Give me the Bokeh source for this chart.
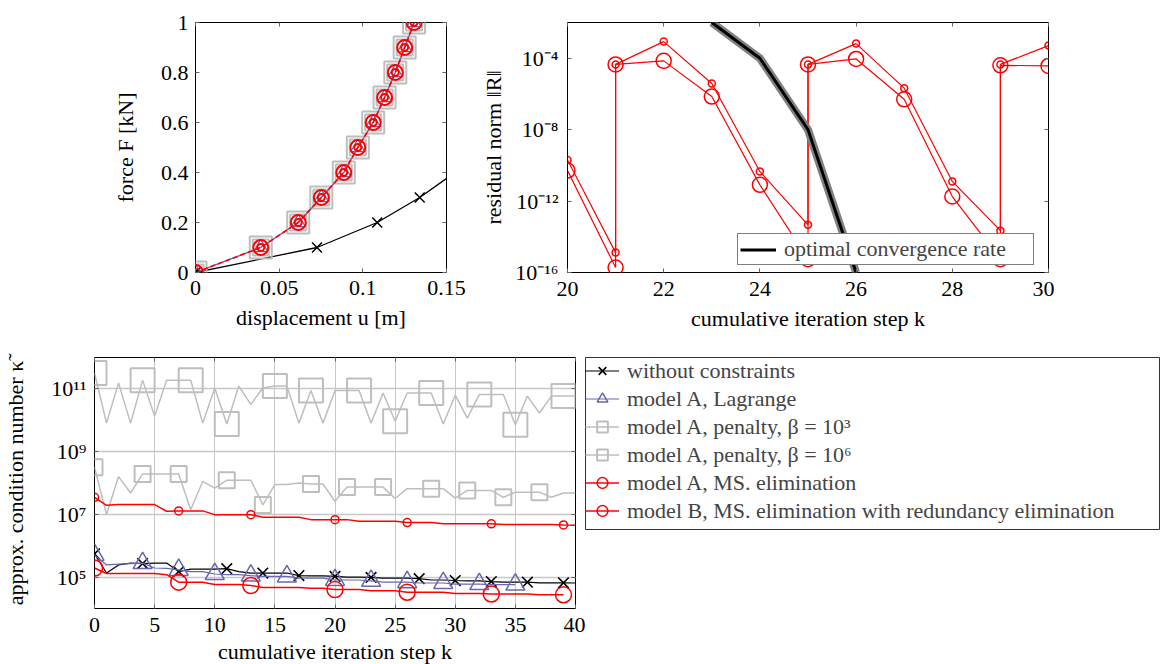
from bokeh.plotting import figure
from bokeh.models import (Range1d, FixedTicker, CustomJSTickFormatter, LinearAxis, LogAxis,
                          Legend, LegendItem)
from bokeh.layouts import column, row
from bokeh.embed import file_html
from bokeh.resources import INLINE

FONT = "Liberation Serif"
FS = "22px"
RED = "#ff0000"
GRAY = "#bebebe"
BLUE = "#6767b0"
BLACK = "#000000"

# ---------------- panel 1: force-displacement ----------------
force_levels = [0.0, 0.1, 0.2, 0.3, 0.4, 0.5, 0.6, 0.7, 0.8, 0.9, 1.0]
disp_constrained = [0.0, 0.039, 0.0614, 0.0752, 0.0886, 0.097, 0.1062, 0.113, 0.1194, 0.125, 0.1306]
force_free = [0.0, 0.1, 0.2, 0.3, 0.4]
disp_free = [0.0, 0.0726, 0.1086, 0.134, 0.155]
p1_xticks = [0.0, 0.05, 0.1, 0.15]
p1_yticks = [0.0, 0.2, 0.4, 0.6, 0.8, 1.0]

# ---------------- panel 2: residual norm ----------------
k_res = [20, 21, 21, 22, 23, 24, 25, 25, 26, 27, 28, 29, 29, 30]
res_model_A = [2.0e-10, 1.3e-15, 4.5e-5, 8.5e-4, 3.8e-6, 4.5e-11, 4.7e-14, 4.5e-5, 6.6e-4,
               2.1e-6, 1.26e-11, 2.2e-14, 4.5e-5, 5.1e-4]
res_model_B = [5.1e-11, 1.9e-16, 4.5e-5, 7.1e-5, 7.1e-7, 8.1e-12, 5.6e-16, 4.5e-5, 9.1e-5,
               5.0e-7, 1.8e-12, 5.6e-16, 4.0e-5, 3.7e-5]
k_opt = [23, 24, 25, 26]
res_opt = [1e-2, 1e-4, 1e-8, 1e-16]
p2_xticks = [20, 22, 24, 26, 28, 30]
p2_yticks = [1e-16, 1e-12, 1e-8, 1e-4]

# ---------------- panel 3: condition number ----------------
k41 = list(range(41))
k40 = list(range(40))
k36 = list(range(36))
kappa_free = [5.5e5, 1.35e5, 2.45e5, 2.8e5, 2.7e5, 2.8e5, 2.8e5, 1.5e5, 1.8e5, 1.8e5,
              1.8e5, 1.86e5, 1.5e5, 1.35e5, 1.35e5, 1.35e5, 1.35e5, 1.12e5, 1.1e5, 1.1e5,
              1.05e5, 1.0e5, 1.0e5, 9.8e4, 9.3e4, 9.3e4, 9.3e4, 8.9e4, 8.1e4, 8.1e4,
              7.8e4, 7.6e4, 7.6e4, 7.2e4, 6.9e4, 6.9e4, 6.9e4, 6.6e4, 6.6e4, 6.6e4, 6.5e4]
marks_free = [0, 4, 7, 11, 14, 17, 20, 23, 27, 30, 33, 36, 39]
kappa_lagrange = [5.1e5, 2.45e5, 2.6e5, 2.7e5, 2.8e5, 1.95e5, 1.9e5, 1.7e5, 1.5e5, 1.5e5,
                  1.26e5, 1.2e5, 1.2e5, 1.12e5, 1.05e5, 1.05e5, 1.05e5, 9.3e4, 9.3e4, 9.3e4,
                  8.1e4, 8.1e4, 8.1e4, 7.6e4, 6.9e4, 6.9e4, 6.9e4, 6.5e4, 6.5e4, 6.5e4,
                  6.0e4, 6.0e4, 6.0e4, 5.8e4, 5.8e4, 5.8e4]
marks_lagrange = [0, 4, 7, 10, 13, 16, 20, 23, 26, 29, 32, 35]
kappa_beta3 = [3.2e8, 9.8e6, 1.6e8, 4.8e7, 1.95e8, 1.95e8, 1.95e8, 1.95e8, 1.4e7, 1.12e8,
               6.9e7, 1.23e8, 1.23e8, 1.23e8, 2.0e7, 8.9e7, 8.9e7, 1.0e8, 9.3e7, 9.3e7,
               2.6e7, 7.4e7, 7.4e7, 7.4e7, 7.4e7, 3.2e7, 6.6e7, 6.6e7, 6.6e7, 6.6e7,
               3.3e7, 5.8e7, 5.8e7, 5.8e7, 3.5e7, 5.1e7, 5.1e7, 5.1e7, 3.5e7, 4.8e7, 4.8e7]
marks_beta3 = [0, 4, 7, 11, 14, 18, 21, 24, 28, 31, 34, 37]
kappa_beta6 = [3.2e11, 8.1e9, 1.55e11, 8.1e9, 1.9e11, 1.35e10, 1.9e11, 1.9e11, 1.9e11, 8.1e9,
               1.07e11, 7.6e9, 1.23e11, 3.2e10, 1.07e11, 1.23e11, 1.23e11, 8.1e9, 8.9e10, 8.1e9,
               8.9e10, 8.9e10, 8.9e10, 8.1e9, 7.4e10, 9.3e9, 7.4e10, 7.4e10, 7.4e10, 7.6e9,
               6.3e10, 1.17e10, 6.6e10, 6.6e10, 6.6e10, 7.2e9, 5.9e10, 1.7e10, 5.9e10, 5.9e10, 5.9e10]
marks_beta6 = [0, 4, 8, 11, 15, 18, 22, 25, 28, 32, 35, 39]
kappa_msA = [3.5e7, 1.95e7, 2.05e7, 2.05e7, 2.05e7, 2.05e7, 1.26e7, 1.29e7, 1.29e7, 1.29e7,
             9.8e6, 9.8e6, 9.8e6, 9.8e6, 8.1e6, 8.1e6, 8.1e6, 8.1e6, 6.8e6, 6.8e6,
             6.8e6, 6.8e6, 6.0e6, 6.0e6, 6.0e6, 6.0e6, 5.5e6, 5.5e6, 5.5e6, 5.0e6,
             5.0e6, 5.0e6, 5.0e6, 5.0e6, 4.8e6, 4.8e6, 4.8e6, 4.8e6, 4.8e6, 4.6e6, 4.5e6]
marks_msA = [0, 7, 13, 20, 26, 33, 39]
kappa_msB = [1.95e5, 1.3e5, 1.3e5, 1.3e5, 1.3e5, 1.3e5, 1.2e5, 6.9e4, 6.9e4, 6.9e4,
             5.8e4, 5.8e4, 5.8e4, 5.4e4, 4.7e4, 4.7e4, 4.7e4, 4.7e4, 4.4e4, 4.4e4,
             4.0e4, 4.0e4, 4.0e4, 3.7e4, 3.7e4, 3.7e4, 3.3e4, 3.3e4, 3.3e4, 3.3e4,
             3.0e4, 3.0e4, 3.0e4, 2.9e4, 2.9e4, 2.9e4, 2.9e4, 2.75e4, 2.75e4, 2.75e4]
marks_msB = [0, 7, 13, 20, 26, 33, 39]
p3_xticks = [0, 5, 10, 15, 20, 25, 30, 35, 40]
p3_yticks = [1e5, 1e7, 1e9, 1e11]

legend_labels = ["without constraints", "model A, Lagrange",
                 "model A, penalty, \u03b2 = 10\u00b3", "model A, penalty, \u03b2 = 10\u2076",
                 "model A, MS. elimination",
                 "model B, MS. elimination with redundancy elimination"]


def sub(vals, idx):
    return [vals[i] for i in idx]


def lin_fmt():
    return CustomJSTickFormatter(code="return String(tick);")


def pow_fmt():
    return CustomJSTickFormatter(code="""
const m = {'-':'\u207b','0':'\u2070','1':'\u00b9','2':'\u00b2','3':'\u00b3','4':'\u2074',
           '5':'\u2075','6':'\u2076','7':'\u2077','8':'\u2078','9':'\u2079'};
const e = Math.round(Math.log10(tick));
return '10' + String(e).split('').map(c => m[c]).join('');
""")


def style(p, xticks, yticks, ylog, xlabel, ylabel, xls, yls, xas, yas):
    p.outline_line_color = "black"
    p.outline_line_width = 1
    p.background_fill_color = "white"
    p.border_fill_color = "white"
    p.xaxis.ticker = FixedTicker(ticks=xticks)
    p.yaxis.ticker = FixedTicker(ticks=yticks)
    p.xaxis.formatter = lin_fmt()
    p.yaxis.formatter = pow_fmt() if ylog else lin_fmt()
    p.xaxis.axis_label = xlabel
    p.yaxis.axis_label = ylabel
    p.xaxis.major_label_standoff = xls
    p.yaxis.major_label_standoff = yls
    p.xaxis.axis_label_standoff = xas
    p.yaxis.axis_label_standoff = yas
    for ax in (p.xaxis[0], p.yaxis[0]):
        ax.axis_line_color = None
        ax.major_tick_in = 4
        ax.major_tick_out = 0
        ax.minor_tick_in = 0
        ax.minor_tick_out = 0
        ax.major_tick_line_color = "#666666"
        ax.major_label_text_font = FONT
        ax.major_label_text_font_size = FS
        ax.major_label_text_color = "black"
        ax.axis_label_text_font = FONT
        ax.axis_label_text_font_size = FS
        ax.axis_label_text_font_style = "normal"
        ax.axis_label_text_color = "black"
    top = LinearAxis(ticker=FixedTicker(ticks=xticks))
    right = (LogAxis if ylog else LinearAxis)(ticker=FixedTicker(ticks=yticks))
    for ax in (top, right):
        ax.formatter = CustomJSTickFormatter(code="return '';")
        ax.major_label_text_font_size = "1px"
        ax.major_label_standoff = 0
        ax.axis_line_color = None
        ax.major_tick_in = 4
        ax.major_tick_out = 0
        ax.minor_tick_in = 0
        ax.minor_tick_out = 0
        ax.major_tick_line_color = "#666666"
    p.add_layout(top, "above")
    p.add_layout(right, "right")


# ---------------- figure 1 ----------------
f1 = figure(frame_width=251, frame_height=250, x_range=Range1d(0, 0.15), y_range=Range1d(0, 1),
            min_border_left=195, min_border_right=24, min_border_top=20, min_border_bottom=78,
            output_backend="svg", toolbar_location=None)
style(f1, p1_xticks, p1_yticks, False, "displacement u [m]", "force F [kN]", 8, 7, 7, 20)
f1.xgrid.visible = False
f1.ygrid.visible = False
f1.line(disp_free, force_free, line_color=BLACK, line_width=1.3)
f1.scatter(disp_free[:4], force_free[:4], marker="x", size=14, line_color=BLACK, line_width=1.5)
f1.line(disp_constrained, force_levels, line_color=GRAY, line_width=1.5)
f1.scatter(disp_constrained, force_levels, marker="square", size=22, fill_color=None,
           line_color=GRAY, line_width=2)
f1.scatter(disp_constrained, force_levels, marker="square", size=16, fill_color=None,
           line_color=GRAY, line_width=2)
f1.line(disp_constrained, force_levels, line_color=BLUE, line_width=1.2)
f1.scatter(disp_constrained, force_levels, marker="triangle", size=14, fill_color=None,
           line_color=BLUE, line_width=1.2)
f1.line(disp_constrained, force_levels, line_color=RED, line_width=1.6, line_dash="5 3")
f1.scatter(disp_constrained, force_levels, marker="circle", size=15, fill_color=None,
           line_color=RED, line_width=2)
f1.scatter(disp_constrained, force_levels, marker="circle", size=7, fill_color=None,
           line_color=RED, line_width=2)
f1.scatter(disp_free[:1], force_free[:1], marker="x", size=8, line_color=BLACK, line_width=1.5)

# ---------------- figure 2 ----------------
f2 = figure(frame_width=481, frame_height=250, x_range=Range1d(20, 30),
            y_range=Range1d(1e-16, 1e-2), y_axis_type="log",
            min_border_left=97, min_border_right=6, min_border_top=22, min_border_bottom=76,
            output_backend="svg", toolbar_location=None)
style(f2, p2_xticks, p2_yticks, True, "cumulative iteration step k", "residual norm \u2016R\u2016",
      9, 9, 7, 6)
f2.xgrid.visible = False
f2.ygrid.visible = False
f2.line(k_res, res_model_A, line_color=RED, line_width=1.2)
f2.scatter(k_res, res_model_A, marker="circle", size=7, fill_color=None, line_color=RED, line_width=1.5)
f2.line(k_res, res_model_B, line_color=RED, line_width=1.2)
f2.scatter(k_res, res_model_B, marker="circle", size=15, fill_color=None, line_color=RED, line_width=1.5)
f2.line(k_opt, res_opt, line_color="#808080", line_width=8)
opt_line = f2.line(k_opt, res_opt, line_color=BLACK, line_width=3)
leg2 = Legend(items=[LegendItem(label="optimal convergence rate", renderers=[opt_line])],
              location=(170, 7), margin=0, padding=2, spacing=0,
              glyph_width=36, glyph_height=23, label_height=23, label_standoff=8, label_width=247,
              label_text_font=FONT, label_text_font_size=FS, border_line_color=BLACK,
              border_line_width=1, background_fill_alpha=1.0)
f2.add_layout(leg2, "center")

# ---------------- figure 3 ----------------
f3 = figure(frame_width=481, frame_height=251, x_range=Range1d(0, 40),
            y_range=Range1d(1e4, 1e12), y_axis_type="log",
            min_border_left=91, min_border_right=10, min_border_top=8, min_border_bottom=57,
            output_backend="svg", toolbar_location=None)
style(f3, p3_xticks, p3_yticks, True, "cumulative iteration step k",
      "approx. condition number \u03ba\u0303", 9, 8, 4, 20)
f3.xgrid.grid_line_color = "#c8c8c8"
f3.ygrid.grid_line_color = "#c8c8c8"
f3.xgrid.grid_line_width = 1
f3.ygrid.grid_line_width = 1.3


def draw_series(p):
    r = {}
    r["b6"] = (p.line(k41, kappa_beta6, line_color=GRAY, line_width=1.5),
               p.scatter(sub(k41, marks_beta6), sub(kappa_beta6, marks_beta6), marker="square",
                         size=24, fill_color=None, line_color=GRAY, line_width=2))
    r["b3"] = (p.line(k41, kappa_beta3, line_color=GRAY, line_width=1.5),
               p.scatter(sub(k41, marks_beta3), sub(kappa_beta3, marks_beta3), marker="square",
                         size=16, fill_color=None, line_color=GRAY, line_width=2))
    r["fr"] = (p.line(k41, kappa_free, line_color=BLACK, line_width=1.2),
               p.scatter(sub(k41, marks_free), sub(kappa_free, marks_free), marker="x",
                         size=15, line_color=BLACK, line_width=1.6))
    r["la"] = (p.line(k36, kappa_lagrange, line_color=BLUE, line_width=1.2),
               p.scatter(sub(k36, marks_lagrange), sub(kappa_lagrange, marks_lagrange),
                         marker="triangle", size=19, fill_color=None, line_color=BLUE,
                         line_width=1.5))
    r["ma"] = (p.line(k41, kappa_msA, line_color=RED, line_width=1.5),
               p.scatter(sub(k41, marks_msA), sub(kappa_msA, marks_msA), marker="circle",
                         size=8, fill_color=None, line_color=RED, line_width=1.5))
    r["mb"] = (p.line(k40, kappa_msB, line_color=RED, line_width=1.5),
               p.scatter(sub(k40, marks_msB), sub(kappa_msB, marks_msB), marker="circle",
                         size=16, fill_color=None, line_color=RED, line_width=1.5))
    return r


draw_series(f3)

# ------- legend panel: its frame outline is the legend box; same series kept out of view -------
f4 = figure(frame_width=574, frame_height=173, x_range=Range1d(-2, -1), y_range=Range1d(-2, -1),
            min_border_left=0, min_border_right=1, min_border_top=9, min_border_bottom=0,
            x_axis_location=None, y_axis_location=None, output_backend="svg",
            toolbar_location=None)
f4.outline_line_color = "#333333"
f4.outline_line_width = 1
f4.xgrid.visible = False
f4.ygrid.visible = False
f4.background_fill_color = "white"
f4.border_fill_color = "white"
rr = draw_series(f4)
order = ["fr", "la", "b3", "b6", "ma", "mb"]
items = [LegendItem(label=legend_labels[i], renderers=list(rr[key])) for i, key in enumerate(order)]
leg3 = Legend(items=items, location="top_left", margin=0, padding=4, spacing=1,
              glyph_width=34, glyph_height=27, label_height=27, label_standoff=8,
              label_text_font=FONT, label_text_font_size=FS, border_line_color=None,
              background_fill_alpha=0.0)
f4.add_layout(leg3, "center")

layout = column(row(f1, f2), row(f3, f4))
with open("out.html", "w", encoding="utf-8") as fh:
    fh.write(file_html(layout, INLINE))
